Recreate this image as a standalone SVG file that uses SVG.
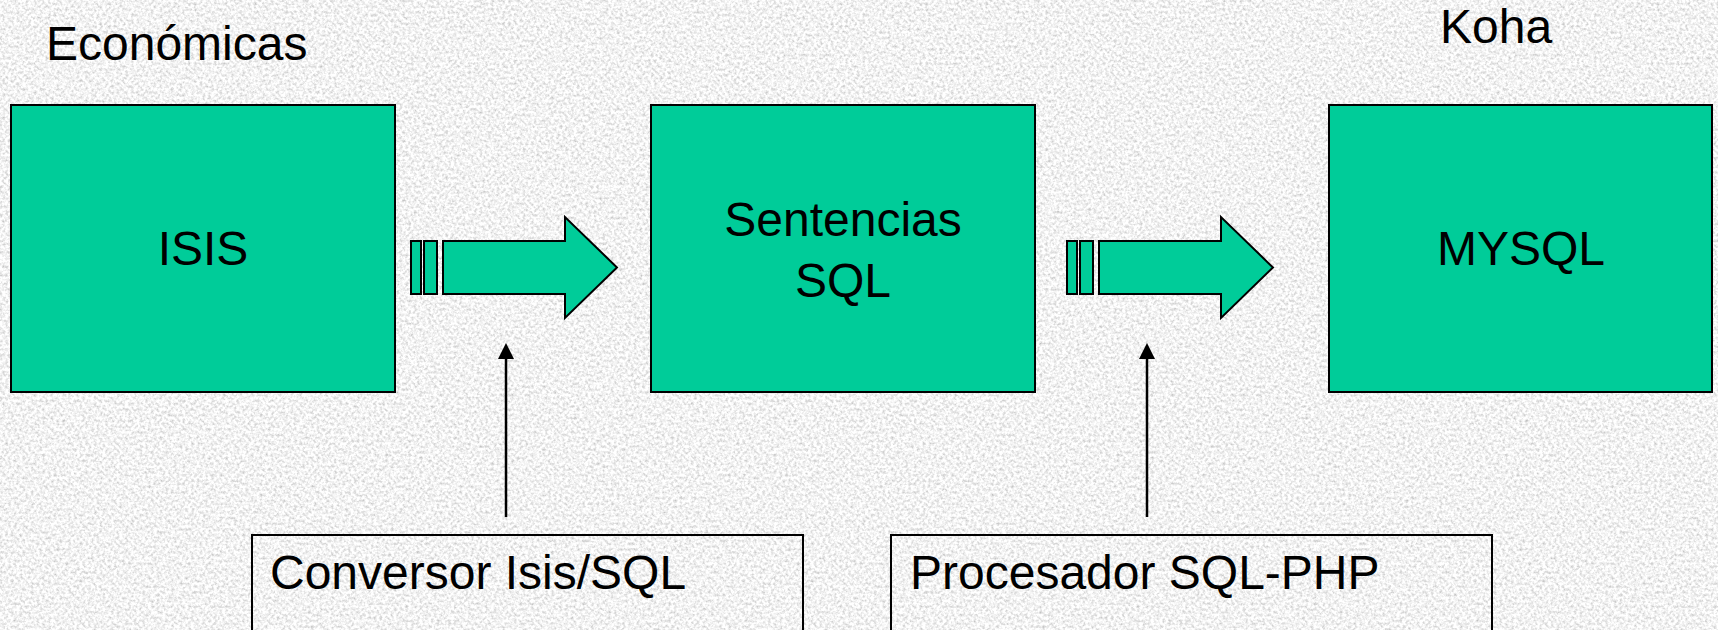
<svg xmlns="http://www.w3.org/2000/svg" width="1718" height="630" viewBox="0 0 1718 630">
  <style>
    .box { fill: #00CC99; stroke: #000; stroke-width: 2; }
    .note { fill: none; stroke: #000; stroke-width: 2; }
    .t { font-family: "Liberation Sans", Arial, sans-serif; font-size: 48px; fill: #000; }
    .mid { text-anchor: middle; }
    .flow { fill: #00CC99; stroke: #000; stroke-width: 2; stroke-linejoin: miter; }
    .conn { stroke: #000; stroke-width: 2.5; fill: none; }
    .head { fill: #000; }
  </style>
  <defs>
    <filter id="granite" x="0" y="0" width="100%" height="100%">
      <feTurbulence type="fractalNoise" baseFrequency="0.35" numOctaves="3" seed="7" result="n"/>
      <feColorMatrix in="n" type="matrix" values="0.85 0 0 0 0.47  0.85 0 0 0 0.47  0.85 0 0 0 0.47  0 0 0 0 1"/>
    </filter>
    <g id="fatArrow">
      <rect class="flow" x="0" y="0" width="10" height="53"/>
      <rect class="flow" x="13" y="0" width="13" height="53"/>
      <path class="flow" d="M32,0 L154,0 L154,-24 L206,26.5 L154,77 L154,53 L32,53 Z"/>
    </g>
  </defs>

  <rect x="0" y="0" width="1718" height="630" fill="#e6e6e6"/>
  <rect x="0" y="0" width="1718" height="630" filter="url(#granite)"/>

  <text class="t" x="46" y="60">Económicas</text>
  <text class="t" x="1440" y="43">Koha</text>

  <g id="connectors">
    <use href="#fatArrow" x="411" y="241"/>
    <use href="#fatArrow" x="1067" y="241"/>
    <line class="conn" x1="506" y1="517" x2="506" y2="356"/>
    <polygon class="head" points="506,343 498,359 514,359"/>
    <line class="conn" x1="1147" y1="517" x2="1147" y2="356"/>
    <polygon class="head" points="1147,343 1139,359 1155,359"/>
  </g>

  <g id="isis">
    <rect class="box" x="11" y="105" width="384" height="287"/>
    <text class="t mid" x="203" y="265">ISIS</text>
  </g>
  <g id="sentencias">
    <rect class="box" x="651" y="105" width="384" height="287"/>
    <text class="t mid" x="843" y="236">Sentencias</text>
    <text class="t mid" x="843" y="297">SQL</text>
  </g>
  <g id="mysql">
    <rect class="box" x="1329" y="105" width="383" height="287"/>
    <text class="t mid" x="1521" y="265">MYSQL</text>
  </g>
  <g id="conversor">
    <rect class="note" x="252" y="535" width="551" height="110"/>
    <text class="t" x="270" y="589">Conversor Isis/SQL</text>
  </g>
  <g id="procesador">
    <rect class="note" x="891" y="535" width="601" height="110"/>
    <text class="t" x="910" y="589">Procesador SQL-PHP</text>
  </g>
</svg>
